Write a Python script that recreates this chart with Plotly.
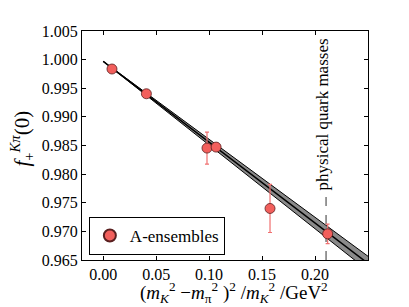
import plotly.graph_objects as go

# data points (A-ensembles)
x_pts = [0.0083, 0.0408, 0.0980, 0.1066, 0.1575, 0.2119]
y_pts = [0.99836, 0.99404, 0.98455, 0.98472, 0.97400, 0.96957]
y_err = [0.0002, 0.0002, 0.0028, 0.0003, 0.0042, 0.0017]

# fit line and error band (read at nodes)
x_fit = [0.0, 0.05, 0.10, 0.15, 0.20, 0.25]
y_fit = [0.99970, 0.99264, 0.98558, 0.97852, 0.97146, 0.96440]
y_fit_lo = [0.99970, 0.99240, 0.98508, 0.97778, 0.97046, 0.96315]
y_fit_hi = [0.99970, 0.99288, 0.98608, 0.97926, 0.97246, 0.96565]

x_phys = 0.2104
phys_label = "physical quark masses"
x_title = ("(<i>m</i><sub><i>K</i></sub><sup>2</sup> \u2212<i>m</i><sub>\u03c0</sub><sup>2</sup> )"
           "<sup>2</sup> /<i>m</i><sub><i>K</i></sub><sup>2</sup> /GeV<sup>2</sup>")
y_title = "<i>f</i><sub>+</sub><sup><i>K\u03c0</i></sup>(0)"

serif = "Liberation Serif"

fig = go.Figure()
fig.add_trace(go.Scatter(x=x_fit, y=y_fit_lo, mode="lines",
                         line=dict(color="black", width=1), showlegend=False, hoverinfo="skip"))
fig.add_trace(go.Scatter(x=x_fit, y=y_fit_hi, mode="lines", fill="tonexty",
                         fillcolor="#8a8a8a",
                         line=dict(color="black", width=1), showlegend=False, hoverinfo="skip"))
fig.add_trace(go.Scatter(x=x_fit, y=y_fit, mode="lines",
                         line=dict(color="black", width=1.5), showlegend=False, hoverinfo="skip"))

# dashed vertical line for physical point
fig.add_trace(go.Scatter(x=[x_phys, x_phys], y=[0.965, 0.9763], mode="lines",
                         line=dict(color="#555555", width=1.2, dash="dash"),
                         showlegend=False, hoverinfo="skip"))

fig.add_trace(go.Scatter(
    x=x_pts, y=y_pts, mode="markers", name="A-ensembles",
    error_y=dict(type="data", array=y_err, color="#f07070", thickness=1.2, width=2),
    marker=dict(color="#f25f5c", size=10, line=dict(color="#5a2020", width=0.8)),
))

fig.add_annotation(x=x_phys - 0.003, y=0.9904, text=phys_label, textangle=-90,
                   showarrow=False, font=dict(family=serif, size=17, color="black"),
                   xanchor="center", yanchor="middle")

fig.add_annotation(xref="paper", yref="paper", x=0.53, y=-0.142, text=x_title,
                   showarrow=False, font=dict(family=serif, size=19, color="black"),
                   xanchor="center", yanchor="middle")
fig.add_annotation(xref="paper", yref="paper", x=-0.21, y=0.53, text=y_title, textangle=-90,
                   showarrow=False, font=dict(family=serif, size=21, color="black"),
                   xanchor="center", yanchor="middle")

axis_common = dict(showline=True, linecolor="black", linewidth=1, mirror="allticks",
                   ticks="inside", ticklen=4, tickcolor="black", showgrid=False,
                   zeroline=False, automargin=False,
                   tickfont=dict(family=serif, size=16, color="black"))

fig.update_xaxes(range=[-0.02, 0.25], tickvals=[0.0, 0.05, 0.10, 0.15, 0.20],
                 ticktext=["0.00", "0.05", "0.10", "0.15", "0.20"], **axis_common)
fig.update_yaxes(range=[0.965, 1.005], dtick=0.005, tickformat=".3f", **axis_common)

# the page body adds an 8px margin; size the figure so the plot lands where the reference has it
fig.update_layout(
    width=401, height=299,
    margin=dict(l=74, r=41, t=23, b=47),
    paper_bgcolor="white", plot_bgcolor="white",
    legend=dict(x=0.024, y=0.022, xanchor="left", yanchor="bottom",
                bordercolor="black", borderwidth=1, bgcolor="white",
                font=dict(family=serif, size=17, color="black"),
                itemsizing="constant", tracegroupgap=0),
)

fig.write_html("out.html")
